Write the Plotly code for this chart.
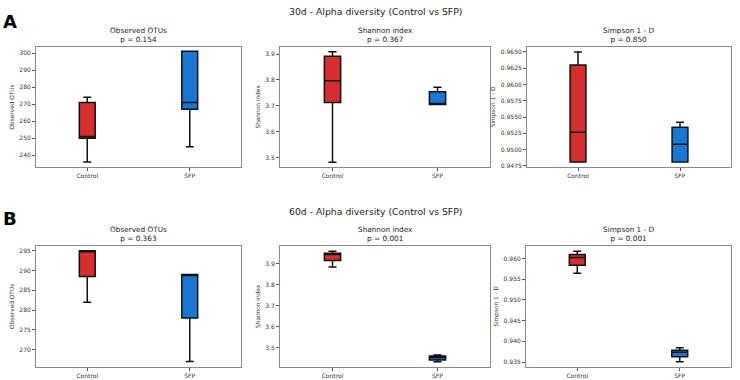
import plotly.graph_objects as go

# ---------------- data ----------------
groups = ["Control", "SFP"]
colors = {"Control": "#d32f2f", "SFP": "#1976d2"}

metrics = ["Observed OTUs", "Shannon index", "Simpson 1 - D"]

# 30d
p_30d = ["p = 0.154", "p = 0.367", "p = 0.850"]
otu30_lower = [236, 245]
otu30_q1 = [250, 267]
otu30_median = [251, 271]
otu30_q3 = [271, 301]
otu30_upper = [274, 301]

sha30_lower = [3.482, 3.705]
sha30_q1 = [3.713, 3.705]
sha30_median = [3.797, 3.707]
sha30_q3 = [3.891, 3.754]
sha30_upper = [3.909, 3.772]

sim30_lower = [0.94807, 0.94807]
sim30_q1 = [0.94807, 0.94807]
sim30_median = [0.95265, 0.95082]
sim30_q3 = [0.96301, 0.95342]
sim30_upper = [0.9650, 0.95418]

# 60d
p_60d = ["p = 0.363", "p = 0.001", "p = 0.001"]
otu60_lower = [282, 267]
otu60_q1 = [288.5, 278]
otu60_median = [295, 289]
otu60_q3 = [295, 289]
otu60_upper = [295, 289]

sha60_lower = [3.884, 3.432]
sha60_q1 = [3.914, 3.441]
sha60_median = [3.943, 3.452]
sha60_q3 = [3.949, 3.460]
sha60_upper = [3.958, 3.465]

sim60_lower = [0.95647, 0.93507]
sim60_q1 = [0.9584, 0.93628]
sim60_median = [0.96024, 0.9374]
sim60_q3 = [0.96096, 0.93788]
sim60_upper = [0.96175, 0.93844]

# y ranges, tick formats
y_ranges = [[233, 303.7], [3.463, 3.928], [0.9473, 0.9658],
            [265.6, 296.3], [3.407, 3.985], [0.9338, 0.9631]]
y_dticks = [10, 0.1, 0.0025, 5, 0.1, 0.005]
y_formats = ["d", ".1f", ".4f", "d", ".1f", ".3f"]

panels = [
    (otu30_lower, otu30_q1, otu30_median, otu30_q3, otu30_upper),
    (sha30_lower, sha30_q1, sha30_median, sha30_q3, sha30_upper),
    (sim30_lower, sim30_q1, sim30_median, sim30_q3, sim30_upper),
    (otu60_lower, otu60_q1, otu60_median, otu60_q3, otu60_upper),
    (sha60_lower, sha60_q1, sha60_median, sha60_q3, sha60_upper),
    (sim60_lower, sim60_q1, sim60_median, sim60_q3, sim60_upper),
]
p_values = p_30d + p_60d
suptitles = ["30d - Alpha diversity (Control vs SFP)",
             "60d - Alpha diversity (Control vs SFP)"]

# ---------------- layout geometry ----------------
W, H = 740, 380
FONT = "DejaVu Sans"
x_px = [[(36, 241), (280, 490), (527, 731)],
        [(36, 241), (280, 490), (526, 731)]]
y_px = [(47, 168), (247, 369)]

fig = go.Figure()
layout = dict(
    width=W, height=H,
    margin=dict(l=0, r=0, t=0, b=0),
    paper_bgcolor="white", plot_bgcolor="white",
    showlegend=False,
    font=dict(family=FONT, color="#333"),
)
annotations = []

for i, (lo, q1, med, q3, up) in enumerate(panels):
    row, col = divmod(i, 3)
    n = i + 1
    xa = "x" if n == 1 else f"x{n}"
    ya = "y" if n == 1 else f"y{n}"
    for g_idx, g in enumerate(groups):
        fig.add_trace(go.Box(
            x=[g], q1=[q1[g_idx]], median=[med[g_idx]], q3=[q3[g_idx]],
            lowerfence=[lo[g_idx]], upperfence=[up[g_idx]],
            fillcolor=colors[g], line=dict(color="#111", width=1.5),
            width=0.155, whiskerwidth=0.5, boxpoints=False,
            xaxis=xa, yaxis=ya, hoverinfo="skip",
        ))
    x0, x1 = x_px[row][col]
    y0, y1 = y_px[row]
    xd = [x0 / W, x1 / W]
    yd = [1 - y1 / H, 1 - y0 / H]
    axis_common = dict(showline=True, mirror=True, linecolor="#8a8a8a",
                       linewidth=1, ticks="outside", ticklen=3,
                       tickcolor="#555", showgrid=False, zeroline=False,
                       tickfont=dict(size=6, family=FONT, color="#333"))
    layout["xaxis" if n == 1 else f"xaxis{n}"] = dict(
        domain=xd, anchor=ya, type="category",
        categoryorder="array", categoryarray=groups,
        range=[-0.5, 1.5], **axis_common)
    layout["yaxis" if n == 1 else f"yaxis{n}"] = dict(
        domain=yd, anchor=xa, range=y_ranges[i], dtick=y_dticks[i],
        tickformat=y_formats[i],
        title=dict(text=metrics[col], font=dict(size=5.8, family=FONT, color="#333"),
                   standoff=4),
        **axis_common)
    annotations.append(dict(
        text=f"{metrics[col]}<br>{p_values[i]}", xref="paper", yref="paper",
        x=(xd[0] + xd[1]) / 2, y=yd[1], xanchor="center", yanchor="bottom",
        yshift=1, showarrow=False, align="center",
        font=dict(size=7.3, family=FONT, color="#222")))

for r, t in enumerate(suptitles):
    yc = [12, 212.7][r]
    annotations.append(dict(text=t, xref="paper", yref="paper",
                            x=375 / W, y=1 - yc / H, xanchor="center", yanchor="middle",
                            showarrow=False, font=dict(size=9.3, family=FONT, color="#222")))

for letter, yc in [("A", 21.5), ("B", 220)]:
    annotations.append(dict(text=f"<b>{letter}</b>", xref="paper", yref="paper",
                            x=10 / W, y=1 - yc / H, xanchor="center", yanchor="middle",
                            showarrow=False, font=dict(size=18, family=FONT, color="#000")))

layout["annotations"] = annotations
fig.update_layout(**layout)
fig.write_html("out.html")
